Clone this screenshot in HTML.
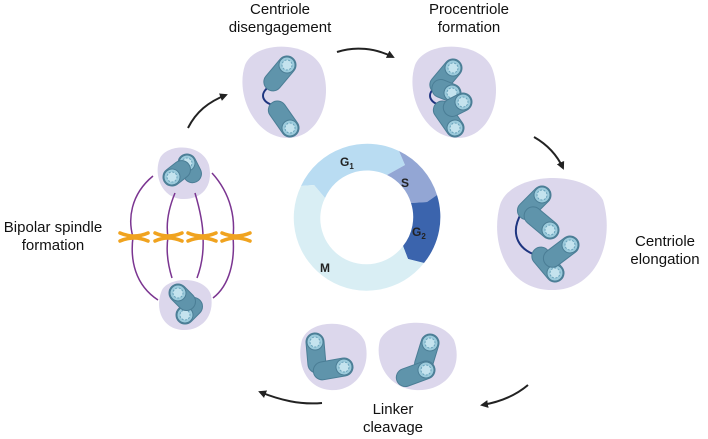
<!DOCTYPE html>
<html><head><style>
body{margin:0;background:#fff;}
svg{display:block;font-family:"Liberation Sans",sans-serif;}
</style></head><body>
<svg width="708" height="439" viewBox="0 0 708 439" xmlns="http://www.w3.org/2000/svg">
<defs>
<g id="c">
<rect x="-9" y="-9" width="18" height="40" rx="9" fill="#5f94ab" stroke="#4a7d95" stroke-width="1"/>
<circle cx="0" cy="0" r="8" fill="#9ccbdc" stroke="#4a7d95" stroke-width="1"/>
<circle cx="0" cy="0" r="5" fill="#c4e3ee" stroke="#6aa3bb" stroke-width="1" stroke-dasharray="2 1.5"/>
</g>
<g id="s">
<rect x="-9" y="-9" width="18" height="30" rx="9" fill="#5f94ab" stroke="#4a7d95" stroke-width="1"/>
<circle cx="0" cy="0" r="8" fill="#9ccbdc" stroke="#4a7d95" stroke-width="1"/>
<circle cx="0" cy="0" r="5" fill="#c4e3ee" stroke="#6aa3bb" stroke-width="1" stroke-dasharray="2 1.5"/>
</g>
<marker id="ah" markerWidth="8" markerHeight="8" refX="6" refY="4" orient="auto" markerUnits="userSpaceOnUse"><path d="M0,0 L8,4 L0,8 z" fill="#222"/></marker>
</defs>
<g fill="#dcd7ec">
<path d="M245,65 C255,40 310,40 322,68 C334,100 318,138 288,138 C255,138 235,95 245,65Z"/>
<path d="M415,65 C425,40 480,40 492,68 C504,100 488,138 458,138 C425,138 405,95 415,65Z"/>
<path d="M500,205 C510,172 585,168 603,200 C615,240 598,288 555,290 C505,292 490,240 500,205Z"/>
<path d="M302,340 C310,318 355,318 365,342 C372,368 355,392 330,390 C305,388 296,362 302,340Z"/>
<path d="M380,340 C390,318 440,316 454,340 C464,368 445,392 415,390 C388,388 374,362 380,340Z"/>
<path d="M160,158 C168,143 202,143 209,165 C214,188 200,200 182,199 C162,198 153,175 160,158Z"/>
<path d="M162,290 C170,276 205,276 211,295 C215,318 200,331 182,330 C160,328 155,306 162,290Z"/>
</g>
<!-- ring -->
<g transform="translate(367,217)">
<path d="M-66,-31 A73,73 0 0 1 32,-66 L38,-52 L20,-42 A46,46 0 0 0 -42,-19 L-53,-32Z" fill="#b9dcf2"/>
<path d="M32,-66 A73,73 0 0 1 70,-22 L60,-15 L44,-14 A46,46 0 0 0 20,-42 L38,-52Z" fill="#93a6d4"/>
<path d="M70,-22 A73,73 0 0 1 57,46 L41,42 L36,29 A46,46 0 0 0 44,-14 L60,-15Z" fill="#3b64ad"/>
<path d="M57,46 A73,73 0 0 1 -66,-31 L-53,-32 L-42,-19 A46,46 0 0 0 36,29 L41,42Z" fill="#d9eef4"/>
<text x="-27" y="-51" font-size="12" font-weight="bold" fill="#222">G<tspan font-size="8" dy="3">1</tspan></text>
<text x="34" y="-30" font-size="12" font-weight="bold" fill="#222">S</text>
<text x="45" y="19" font-size="12" font-weight="bold" fill="#222">G<tspan font-size="8" dy="3">2</tspan></text>
<text x="-47" y="55" font-size="12" font-weight="bold" fill="#222">M</text>
</g>
<!-- linkers -->
<g fill="none" stroke="#1e3580" stroke-width="2">
<path d="M270,86 C258,94 262,104 278,106"/>
<path d="M437,86 C425,94 429,104 445,106"/>
<path d="M522,212 C508,235 520,252 540,256"/>
</g>
<!-- centrioles -->
<use href="#c" transform="translate(287,65) rotate(40)"/>
<use href="#c" transform="translate(290,128) rotate(145)"/>
<use href="#c" transform="translate(453,68) rotate(40)"/>
<use href="#c" transform="translate(455,128) rotate(145)"/>
<use href="#s" transform="translate(452,93) rotate(112)"/>
<use href="#s" transform="translate(463,102) rotate(63)"/>
<use href="#c" transform="translate(542,195) rotate(45)"/>
<use href="#c" transform="translate(555,273) rotate(140)"/>
<use href="#c" transform="translate(550,230) rotate(130)"/>
<use href="#c" transform="translate(570,245) rotate(53)"/>
<use href="#c" transform="translate(315,342) rotate(-5)"/>
<use href="#c" transform="translate(344,367) rotate(80)"/>
<use href="#c" transform="translate(430,343) rotate(17)"/>
<use href="#c" transform="translate(426,370) rotate(70)"/>
<use href="#s" transform="translate(187,163) rotate(-27)"/>
<use href="#s" transform="translate(172,177) rotate(232)"/>
<use href="#s" transform="translate(185,315) rotate(225)"/>
<use href="#s" transform="translate(178,293) rotate(-45)"/>
<!-- spindle -->
<g fill="none" stroke="#7b3591" stroke-width="1.5">
<path d="M153,176 C130,195 128,220 133,237 C130,260 135,285 158,300"/>
<path d="M175,193 C168,210 166,225 168,237 C166,250 168,265 172,278"/>
<path d="M195,193 C200,210 203,225 203,237 C204,255 200,270 197,278"/>
<path d="M212,173 C232,195 235,220 233,237 C235,260 230,285 213,298"/>
</g>
<g stroke="#f0a31f" stroke-width="3.5" stroke-linecap="round" fill="none">
<path d="M120,233 Q134,239 148,233 M120,241 Q134,235 148,241"/>
<path d="M155,233 Q168,239 182,233 M155,241 Q168,235 182,241"/>
<path d="M188,233 Q202,239 216,233 M188,241 Q202,235 216,241"/>
<path d="M222,233 Q236,239 250,233 M222,241 Q236,235 250,241"/>
</g>
<!-- arrows -->
<g fill="none" stroke="#222" stroke-width="2" marker-end="url(#ah)">
<path d="M337,52 C355,46 375,48 393,57"/>
<path d="M534,137 C548,145 557,155 563,168"/>
<path d="M528,385 C515,396 500,402 482,405"/>
<path d="M322,403 C300,405 280,400 260,392"/>
<path d="M188,128 C196,112 208,102 226,95"/>
</g>
<g font-size="15" fill="#111" text-anchor="middle">
<text x="280" y="14">Centriole</text><text x="280" y="32">disengagement</text>
<text x="469" y="14">Procentriole</text><text x="469" y="32">formation</text>
<text x="665" y="246">Centriole</text><text x="665" y="264">elongation</text>
<text x="393" y="414">Linker</text><text x="393" y="432">cleavage</text>
<text x="53" y="232">Bipolar spindle</text><text x="53" y="250">formation</text>
</g>
</svg>
</body></html>
